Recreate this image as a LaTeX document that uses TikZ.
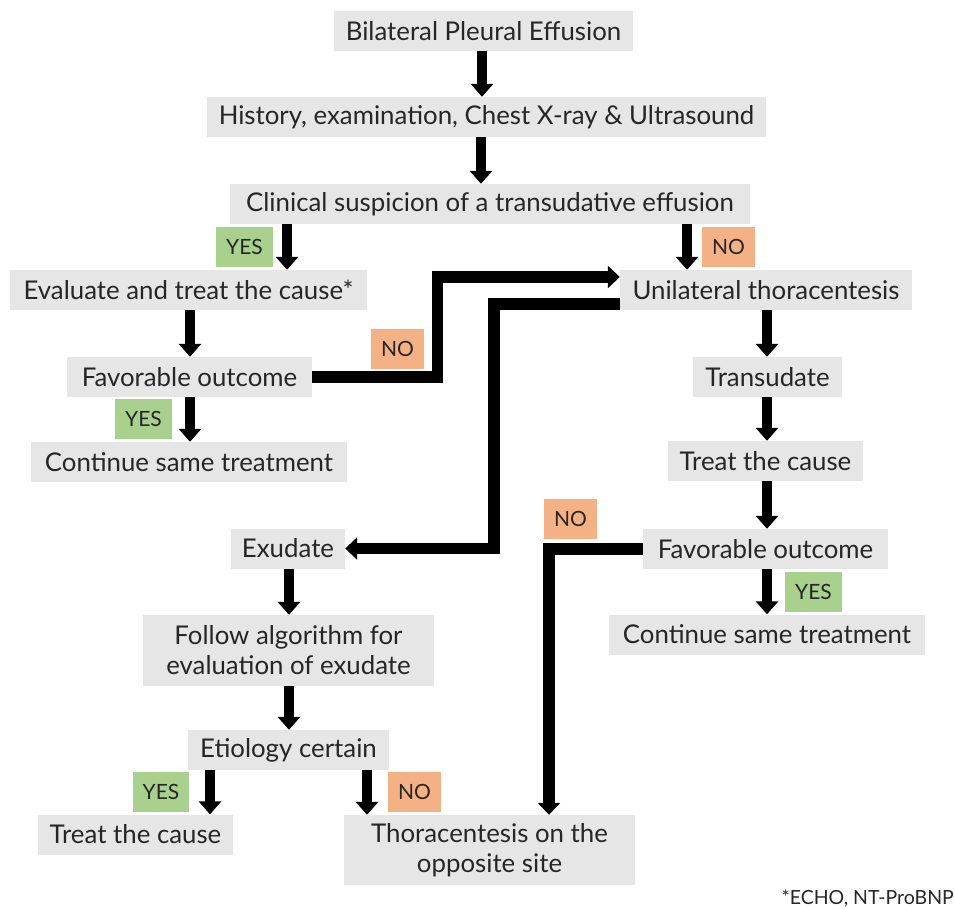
\documentclass[tikz,border=0pt]{standalone}
\usepackage{fontspec}
\setmainfont{Lato}
\usetikzlibrary{arrows.meta}
\definecolor{boxgray}{HTML}{E7E6E6}
\definecolor{yesgreen}{HTML}{A9D18E}
\definecolor{noorange}{HTML}{F4B183}
\definecolor{txt}{HTML}{262626}
\tikzset{
  box/.style={fill=boxgray, inner sep=0pt, minimum height=40pt, text=txt,
    font=\fontsize{25.8}{30}\selectfont, align=center},
  yeslab/.style={fill=yesgreen, inner sep=0pt, minimum width=57pt, minimum height=40pt,
    text=txt, font=\fontsize{21}{24}\selectfont},
  nolab/.style={fill=noorange, inner sep=0pt, minimum width=53pt, minimum height=40pt,
    text=txt, font=\fontsize{21}{24}\selectfont},
  arr/.style={line width=10pt, -{Triangle[width=22pt,length=13pt]}},
  conn/.style={line width=11.5pt, line join=miter, -{Triangle[width=22pt,length=12pt]}},
}
\begin{document}
\begin{tikzpicture}[x=1pt,y=-1pt]
\useasboundingbox (0,0) rectangle (955,908);
% boxes
\node[box, minimum width=299pt] (b1) at (483.5,31) {Bilateral Pleural Effusion};
\node[box, minimum width=559pt] (b2) at (486.5,117) {History, examination, Chest X-ray \& Ultrasound};
\node[box, minimum width=520pt] (b3) at (490,204) {Clinical suspicion of a transudative effusion};
\node[box, minimum width=357pt] (b4) at (188.5,290) {Evaluate and treat the cause*};
\node[box, minimum width=292pt] (b5) at (766,290) {Unilateral thoracentesis};
\node[box, minimum width=245pt] (b6) at (189.5,377) {Favorable outcome};
\node[box, minimum width=316pt] (b7) at (189,462) {Continue same treatment};
\node[box, minimum width=149pt] (b8) at (767.5,377) {Transudate};
\node[box, minimum width=195pt] (b9) at (765.5,461) {Treat the cause};
\node[box, minimum width=245pt] (b10) at (765.5,549) {Favorable outcome};
\node[box, minimum width=316pt] (b11) at (767,634.5) {Continue same treatment};
\node[box, minimum width=114pt] (b12) at (288,548.5) {Exudate};
\node[box, minimum width=291pt, minimum height=71pt] (b13) at (288.5,650.5) {Follow algorithm for\\evaluation of exudate};
\node[box, minimum width=201pt] (b14) at (288.5,750) {Etiology certain};
\node[box, minimum width=195pt] (b15) at (135.5,834.5) {Treat the cause};
\node[box, minimum width=291pt, minimum height=70pt] (b16) at (489.5,850) {Thoracentesis on the\\opposite site};
% labels
\node[yeslab] (y1) at (244.5,247) {YES};
\node[nolab] (n1) at (728.5,247) {NO};
\node[nolab] (n2) at (397.5,348.5) {NO};
\node[yeslab] (y2) at (143.5,419) {YES};
\node[nolab] (n3) at (570.5,519) {NO};
\node[yeslab] (y4) at (813.5,592) {YES};
\node[yeslab, minimum width=56pt] (y3) at (161,792) {YES};
\node[nolab] (n4) at (414.5,792) {NO};
\node[anchor=east, inner sep=0pt, text=txt, font=\fontsize{19.5}{22}\selectfont] (fn) at (954,898) {*ECHO, NT-ProBNP};
% arrow columns
\coordinate (a1) at (482,0);
\coordinate (a2) at (481,0);
\coordinate (a3) at (287,0);
\coordinate (a4) at (687,0);
\coordinate (a5) at (190,0);
\coordinate (a7) at (767,0);
\coordinate (a8) at (289,0);
\coordinate (a9) at (210,0);
\coordinate (a10) at (367,0);
\draw[arr] (a1 |- b1.south) -- (a1 |- b2.north);
\draw[arr] (a2 |- b2.south) -- (a2 |- b3.north);
\draw[arr] (a3 |- b3.south) -- (a3 |- b4.north);
\draw[arr] (a4 |- b3.south) -- (a4 |- b5.north);
\draw[arr] (a5 |- b4.south) -- (a5 |- b6.north);
\draw[arr] (a5 |- b6.south) -- (a5 |- b7.north);
\draw[arr] (a7 |- b5.south) -- (a7 |- b8.north);
\draw[arr] (a7 |- b8.south) -- (a7 |- b9.north);
\draw[arr] (a7 |- b9.south) -- (a7 |- b10.north);
\draw[arr] (a7 |- b10.south) -- (a7 |- b11.north);
\draw[arr] (a8 |- b12.south) -- (a8 |- b13.north);
\draw[arr] (a8 |- b13.south) -- (a8 |- b14.north);
\draw[arr] (a9 |- b14.south) -- (a9 |- b15.north);
\draw[arr] (a10 |- b14.south) -- (a10 |- b16.north);
% elbow connectors
\coordinate (k1) at (437.5,277);
\coordinate (k2) at (494,304);
\coordinate (k3) at (549,549);
\draw[conn] (b6.east) -| (k1) -- (k1 -| b5.west);
\draw[conn] (k2 -| b5.west) -- (k2) |- (b12.east);
\draw[conn] (b10.west) -| (k3 |- b16.north);
\end{tikzpicture}
\end{document}
